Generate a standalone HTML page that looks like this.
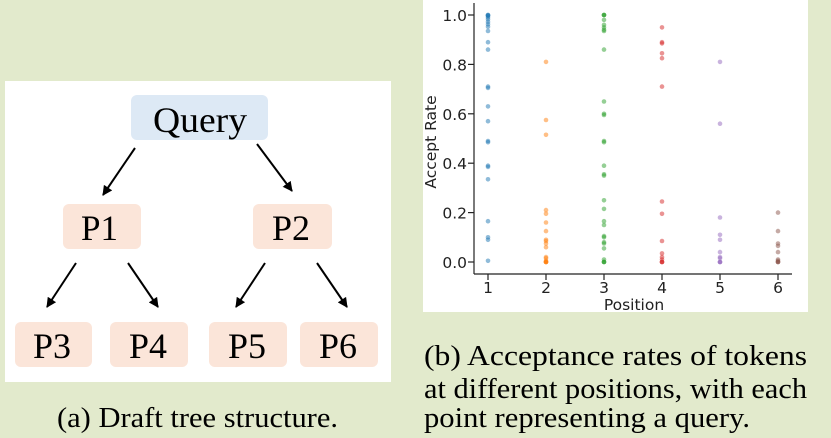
<!DOCTYPE html>
<html><head><meta charset="utf-8"><style>
html,body{margin:0;padding:0;background:#e2eacc;}
svg{display:block;}
</style></head><body>
<svg width="831" height="438" viewBox="0 0 831 438" xmlns="http://www.w3.org/2000/svg">
<defs>
<marker id="ah" markerWidth="10" markerHeight="10" refX="9" refY="5" orient="auto" markerUnits="userSpaceOnUse">
<path d="M0,0 L10,5 L0,10 z" fill="#000"/>
</marker>
</defs>
<rect x="0" y="0" width="831" height="438" fill="#e2eacc"/>
<rect x="5" y="81" width="386" height="301" fill="#fff"/>
<g font-family="Liberation Serif, serif" font-size="36" fill="#000">
<rect x="131" y="95" width="137" height="45" rx="6" fill="#dde9f5"/>
<text x="153" y="132" textLength="94" lengthAdjust="spacingAndGlyphs">Query</text>
<rect x="63" y="204" width="78" height="45" rx="6" fill="#fbe5d9"/>
<text x="81" y="240" textLength="37" lengthAdjust="spacingAndGlyphs">P1</text>
<rect x="253" y="204" width="79" height="45" rx="6" fill="#fbe5d9"/>
<text x="272" y="240" textLength="38" lengthAdjust="spacingAndGlyphs">P2</text>
<rect x="15" y="322" width="77" height="45" rx="6" fill="#fbe5d9"/>
<text x="33" y="358" textLength="38" lengthAdjust="spacingAndGlyphs">P3</text>
<rect x="110" y="322" width="78" height="45" rx="6" fill="#fbe5d9"/>
<text x="129" y="358" textLength="38" lengthAdjust="spacingAndGlyphs">P4</text>
<rect x="209" y="322" width="78" height="45" rx="6" fill="#fbe5d9"/>
<text x="228" y="358" textLength="38" lengthAdjust="spacingAndGlyphs">P5</text>
<rect x="300" y="322" width="78" height="45" rx="6" fill="#fbe5d9"/>
<text x="319" y="358" textLength="38" lengthAdjust="spacingAndGlyphs">P6</text>
</g>
<g stroke="#000" stroke-width="2" marker-end="url(#ah)">
<line x1="135" y1="148" x2="103" y2="195"/>
<line x1="257" y1="144" x2="292" y2="191"/>
<line x1="76" y1="263" x2="47" y2="307"/>
<line x1="128" y1="263" x2="158" y2="307"/>
<line x1="265" y1="263" x2="236" y2="307"/>
<line x1="317" y1="263" x2="347" y2="307"/>
</g>
<text x="57" y="427" font-family="Liberation Serif, serif" font-size="28" textLength="281" lengthAdjust="spacingAndGlyphs">(a) Draft tree structure.</text>

<rect x="423" y="0" width="385" height="312" fill="#fff"/>
<g stroke="#222" stroke-width="1.2" fill="none">
<line x1="474" y1="3" x2="474" y2="274"/>
<line x1="474" y1="274" x2="792" y2="274"/>
<line x1="468" y1="262" x2="474" y2="262"/><line x1="468" y1="212.6" x2="474" y2="212.6"/>
<line x1="468" y1="163.2" x2="474" y2="163.2"/><line x1="468" y1="113.8" x2="474" y2="113.8"/>
<line x1="468" y1="64.4" x2="474" y2="64.4"/><line x1="468" y1="15" x2="474" y2="15"/>
<line x1="488" y1="274" x2="488" y2="280"/><line x1="546" y1="274" x2="546" y2="280"/>
<line x1="604" y1="274" x2="604" y2="280"/><line x1="662" y1="274" x2="662" y2="280"/>
<line x1="720" y1="274" x2="720" y2="280"/><line x1="778" y1="274" x2="778" y2="280"/>
</g>
<g font-family="DejaVu Sans, Liberation Sans, sans-serif" font-size="15.5" fill="#222" text-anchor="end">
<text x="467" y="268">0.0</text><text x="467" y="218.6">0.2</text>
<text x="467" y="169.2">0.4</text><text x="467" y="119.8">0.6</text>
<text x="467" y="70.4">0.8</text><text x="467" y="21">1.0</text>
</g>
<g font-family="DejaVu Sans, Liberation Sans, sans-serif" font-size="15.5" fill="#222" text-anchor="middle">
<text x="488" y="293">1</text><text x="546" y="293">2</text><text x="604" y="293">3</text>
<text x="662" y="293">4</text><text x="720" y="293">5</text><text x="778" y="293">6</text>
<text x="634" y="310">Position</text>
<text transform="translate(436,142) rotate(-90)">Accept Rate</text>
</g>
<g font-family="Liberation Serif, serif" font-size="28" fill="#000">
<text x="424" y="365" textLength="383" lengthAdjust="spacingAndGlyphs">(b) Acceptance rates of tokens</text>
<text x="424" y="398" textLength="383" lengthAdjust="spacingAndGlyphs">at different positions, with each</text>
<text x="424" y="427" textLength="326" lengthAdjust="spacingAndGlyphs">point representing a query.</text>
</g>
<g fill-opacity="0.5">
<g fill="#1f77b4">
<circle cx="488" cy="15" r="2.3"/><circle cx="488" cy="15.5" r="2.3"/><circle cx="488" cy="17.5" r="2.3"/><circle cx="488" cy="19.4" r="2.3"/><circle cx="488" cy="21.9" r="2.3"/><circle cx="488" cy="24.3" r="2.3"/><circle cx="488" cy="26.8" r="2.3"/><circle cx="488" cy="31" r="2.3"/><circle cx="488" cy="42.2" r="2.3"/><circle cx="488" cy="49.6" r="2.3"/><circle cx="488" cy="86.6" r="2.3"/><circle cx="488" cy="87.9" r="2.3"/><circle cx="488" cy="106.4" r="2.3"/><circle cx="488" cy="121.2" r="2.3"/><circle cx="488" cy="141" r="2.3"/><circle cx="488" cy="142.2" r="2.3"/><circle cx="488" cy="165.7" r="2.3"/><circle cx="488" cy="166.9" r="2.3"/><circle cx="488" cy="179.3" r="2.3"/><circle cx="488" cy="221.2" r="2.3"/><circle cx="488" cy="237.3" r="2.3"/><circle cx="488" cy="239.8" r="2.3"/><circle cx="488" cy="260.8" r="2.3"/>
<circle cx="488" cy="15" r="2.3"/><circle cx="488" cy="16" r="2.3"/>
</g>
<g fill="#ff7f0e">
<circle cx="546" cy="61.9" r="2.3"/><circle cx="546" cy="120" r="2.3"/><circle cx="546" cy="134.8" r="2.3"/><circle cx="546" cy="210.1" r="2.3"/><circle cx="546" cy="213.8" r="2.3"/><circle cx="546" cy="222.5" r="2.3"/><circle cx="546" cy="231.1" r="2.3"/><circle cx="546" cy="239.8" r="2.3"/><circle cx="546" cy="241" r="2.3"/><circle cx="546" cy="243.5" r="2.3"/><circle cx="546" cy="247.2" r="2.3"/><circle cx="546" cy="257.1" r="2.3"/><circle cx="546" cy="258.3" r="2.3"/><circle cx="546" cy="260.8" r="2.3"/><circle cx="546" cy="262" r="2.3"/><circle cx="546" cy="262" r="2.3"/><circle cx="546" cy="262" r="2.3"/><circle cx="546" cy="262" r="2.3"/>
</g>
<g fill="#2ca02c">
<circle cx="604" cy="15" r="2.3"/><circle cx="604" cy="15" r="2.3"/><circle cx="604" cy="15" r="2.3"/><circle cx="604" cy="19.9" r="2.3"/><circle cx="604" cy="24.9" r="2.3"/><circle cx="604" cy="27.4" r="2.3"/><circle cx="604" cy="29.8" r="2.3"/><circle cx="604" cy="31" r="2.3"/><circle cx="604" cy="49.6" r="2.3"/><circle cx="604" cy="101.5" r="2.3"/><circle cx="604" cy="113.8" r="2.3"/><circle cx="604" cy="115" r="2.3"/><circle cx="604" cy="141" r="2.3"/><circle cx="604" cy="142.2" r="2.3"/><circle cx="604" cy="165.7" r="2.3"/><circle cx="604" cy="174.3" r="2.3"/><circle cx="604" cy="175.6" r="2.3"/><circle cx="604" cy="200.3" r="2.3"/><circle cx="604" cy="208.9" r="2.3"/><circle cx="604" cy="221.2" r="2.3"/><circle cx="604" cy="225" r="2.3"/><circle cx="604" cy="236.1" r="2.3"/><circle cx="604" cy="237.3" r="2.3"/><circle cx="604" cy="242.2" r="2.3"/><circle cx="604" cy="243.5" r="2.3"/><circle cx="604" cy="248.4" r="2.3"/><circle cx="604" cy="259.5" r="2.3"/><circle cx="604" cy="262" r="2.3"/><circle cx="604" cy="262" r="2.3"/><circle cx="604" cy="262" r="2.3"/>
</g>
<g fill="#d62728">
<circle cx="662" cy="27.4" r="2.3"/><circle cx="662" cy="42.2" r="2.3"/><circle cx="662" cy="43.4" r="2.3"/><circle cx="662" cy="53.3" r="2.3"/><circle cx="662" cy="58.2" r="2.3"/><circle cx="662" cy="86.6" r="2.3"/><circle cx="662" cy="201.5" r="2.3"/><circle cx="662" cy="213.8" r="2.3"/><circle cx="662" cy="241" r="2.3"/><circle cx="662" cy="253.4" r="2.3"/><circle cx="662" cy="257.1" r="2.3"/><circle cx="662" cy="259.5" r="2.3"/><circle cx="662" cy="262" r="2.3"/><circle cx="662" cy="262" r="2.3"/><circle cx="662" cy="262" r="2.3"/>
</g>
<g fill="#9467bd">
<circle cx="720" cy="61.9" r="2.3"/><circle cx="720" cy="123.7" r="2.3"/><circle cx="720" cy="217.5" r="2.3"/><circle cx="720" cy="234.8" r="2.3"/><circle cx="720" cy="239.8" r="2.3"/><circle cx="720" cy="252.1" r="2.3"/><circle cx="720" cy="257.1" r="2.3"/><circle cx="720" cy="258.3" r="2.3"/><circle cx="720" cy="262" r="2.3"/><circle cx="720" cy="262" r="2.3"/><circle cx="720" cy="262" r="2.3"/>
</g>
<g fill="#8c564b">
<circle cx="778" cy="212.6" r="2.3"/><circle cx="778" cy="231.1" r="2.3"/><circle cx="778" cy="243.5" r="2.3"/><circle cx="778" cy="245.9" r="2.3"/><circle cx="778" cy="252.1" r="2.3"/><circle cx="778" cy="259.5" r="2.3"/><circle cx="778" cy="260.8" r="2.3"/><circle cx="778" cy="262" r="2.3"/><circle cx="778" cy="262" r="2.3"/><circle cx="778" cy="262" r="2.3"/>
</g>
</g>
</svg>
</body></html>
